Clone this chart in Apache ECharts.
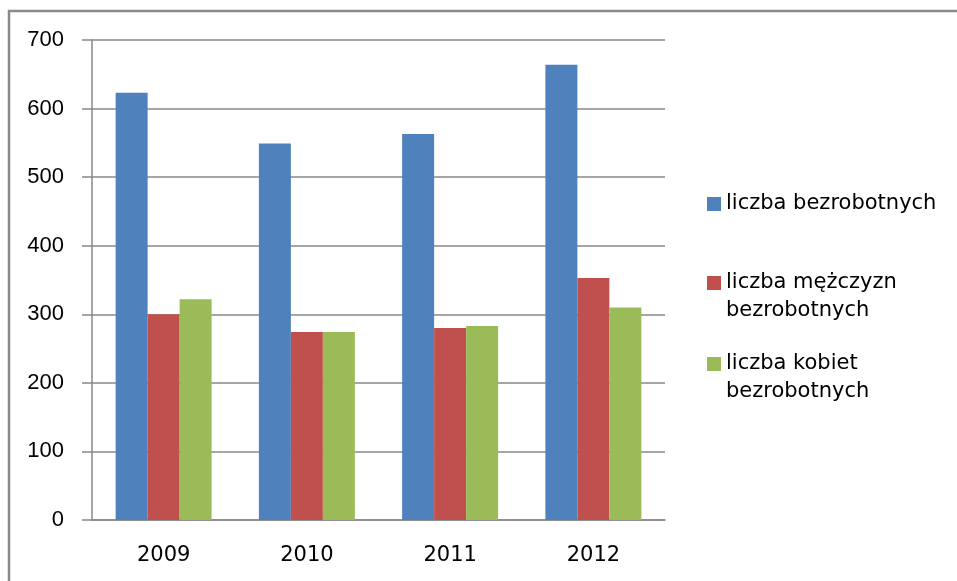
<!DOCTYPE html>
<html>
<head>
<meta charset="utf-8">
<script src="https://cdn.jsdelivr.net/npm/echarts@6/dist/echarts.min.js"></script>
<style>
  html, body { margin: 0; padding: 0; background: #fff; }
  #chart { width: 957px; height: 581px; }
</style>
</head>
<body>
<div id="chart"></div>
<script>
// dane
var years = ["2009", "2010", "2011", "2012"];
var seriesNames = ["liczba bezrobotnych", "liczba mężczyzn bezrobotnych", "liczba kobiet bezrobotnych"];
var legendLabels = ["liczba bezrobotnych", " \nliczba mężczyzn\nbezrobotnych", " \nliczba kobiet\nbezrobotnych"];
var ogolem = [623, 549, 563, 664];
var mezczyzni = [300, 274, 280, 353];
var kobiety = [322, 274, 283, 310];
var colors = ["#4F81BD", "#C0504D", "#9BBB59"];

var gridColor = "#888888";
var txtFont = "DejaVu Sans";

// osobna legenda dla kazdej serii, zeby ustawic ja tak jak w oryginale
function legendFor(i, top) {
  return {
    orient: "vertical",
    left: 707,
    top: top,
    padding: 0,
    itemWidth: 14,
    itemHeight: 14,
    icon: "rect",
    selectedMode: false,
    data: [seriesNames[i]],
    formatter: function () { return legendLabels[i]; },
    textStyle: {
      fontFamily: txtFont,
      fontSize: 21,
      color: "#000",
      lineHeight: 28
    }
  };
}

var myChart = echarts.init(document.getElementById("chart"));
var option = {
  animation: false,
  color: colors,
  graphic: [{
    type: "rect",
    shape: { x: 9, y: 11, width: 1200, height: 800 },
    style: { fill: "none", stroke: "#8a8a8a", lineWidth: 2.5 },
    silent: true
  }],
  grid: { left: 92, right: 292, top: 40, bottom: 61 },
  legend: [
    legendFor(0, 190),
    legendFor(1, 241),
    legendFor(2, 322)
  ],
  xAxis: {
    type: "category",
    data: years,
    axisLine: { lineStyle: { color: gridColor, width: 1.5 } },
    axisTick: { length: 8, lineStyle: { color: gridColor, width: 1.5 } },
    axisLabel: { color: "#000", fontFamily: txtFont, fontSize: 21, margin: 25 }
  },
  yAxis: {
    type: "value",
    min: 0,
    max: 700,
    interval: 100,
    axisLine: { show: true, lineStyle: { color: gridColor, width: 1.5 } },
    axisTick: { show: true, length: 10, lineStyle: { color: gridColor, width: 1.5 } },
    axisLabel: { color: "#000", fontFamily: "Liberation Sans", fontSize: 22, margin: 28 },
    splitLine: { lineStyle: { color: gridColor, width: 1.5 } }
  },
  series: [
    { name: seriesNames[0], type: "bar", data: ogolem, barGap: "0%", barCategoryGap: "33%" },
    { name: seriesNames[1], type: "bar", data: mezczyzni, barGap: "0%", barCategoryGap: "33%" },
    { name: seriesNames[2], type: "bar", data: kobiety, barGap: "0%", barCategoryGap: "33%" }
  ]
};
myChart.setOption(option);
</script>
</body>
</html>
